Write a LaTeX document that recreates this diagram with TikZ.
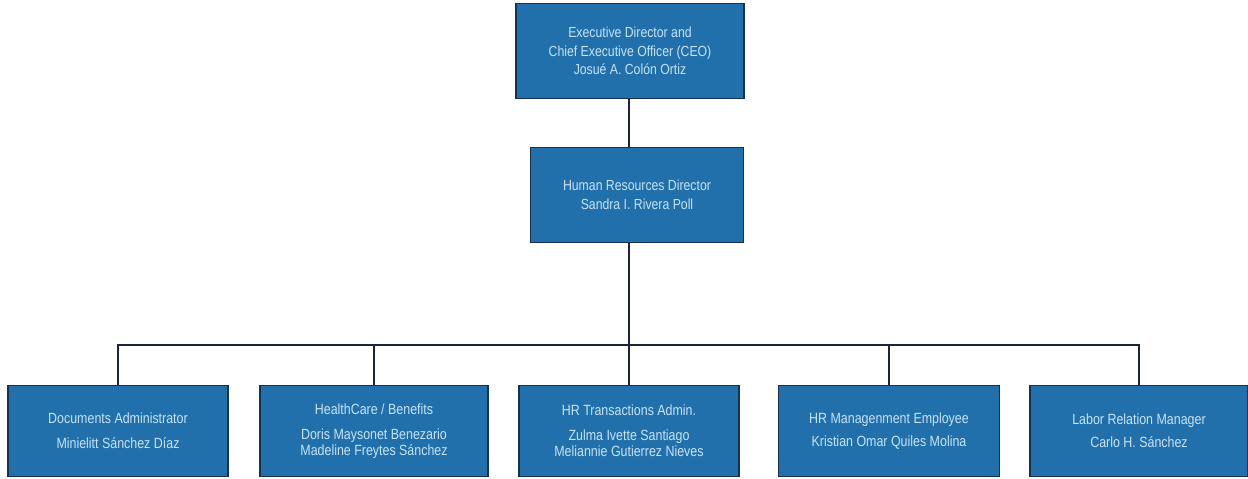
\documentclass[tikz,border=0pt]{standalone}
\usepackage{fontspec}
\setmainfont[FakeStretch=0.84]{Liberation Sans}
\usetikzlibrary{positioning}
\definecolor{boxblue}{HTML}{2170AC}
\definecolor{boxline}{HTML}{17324F}
\definecolor{boxtext}{HTML}{C6E4F8}
\definecolor{wire}{HTML}{1B2438}
\tikzset{orgbox/.style={rectangle, draw=boxline, line width=1.5pt, fill=boxblue,
    text=boxtext, align=center, font=\fontsize{14.6}{18.5}\selectfont, inner sep=2pt}}
\tikzset{staffbox/.style={orgbox, minimum height=91pt, font=\fontsize{14.8}{16}\selectfont}}
\tikzset{link/.style={draw=wire, line width=1.8pt}}

\begin{document}
\begin{tikzpicture}[x=1pt, y=-1pt]
  \useasboundingbox (0,0) rectangle (1248,479);
  % top
  \node[orgbox, minimum width=228pt, minimum height=95pt] (CEO) at (630,51)
    {Executive Director and\\Chief Executive Officer (CEO)\\Josué A. Colón Ortiz};
  \node[orgbox, minimum width=213pt, minimum height=95pt] (HRD) at (637,195)
    {Human Resources Director\\Sandra I. Rivera Poll};

  % staff
  \node[staffbox, minimum width=220pt] (Docs) at (118,431)
    {Documents Administrator\\[9pt]Minielitt Sánchez Díaz};
  \node[staffbox, minimum width=228pt] (Health) at (374,431)
    {HealthCare / Benefits\\[9pt]Doris Maysonet Benezario\\Madeline Freytes Sánchez};
  \node[staffbox, minimum width=220pt] (Trans) at (629,431)
    {HR Transactions Admin.\\[9pt]Zulma Ivette Santiago\\Meliannie Gutierrez Nieves};
  \node[staffbox, minimum width=221pt] (Mgmt) at (889,431)
    {HR Managenment Employee\\[7pt]Kristian Omar Quiles Molina};
  \node[staffbox, minimum width=218pt] (Labor) at (1139,431)
    {Labor Relation Manager\\[7pt]Carlo H. Sánchez};

  % connectors
  \coordinate (bus) at (629,345);
  \draw[link] (CEO.south -| 629,0) -- (HRD.north -| 629,0);
  \draw[link] (HRD.south -| 629,0) -- (bus);
  \foreach \kid in {Docs, Health, Trans, Mgmt, Labor}
    \draw[link] (bus) -| (\kid.north);
\end{tikzpicture}
\end{document}
